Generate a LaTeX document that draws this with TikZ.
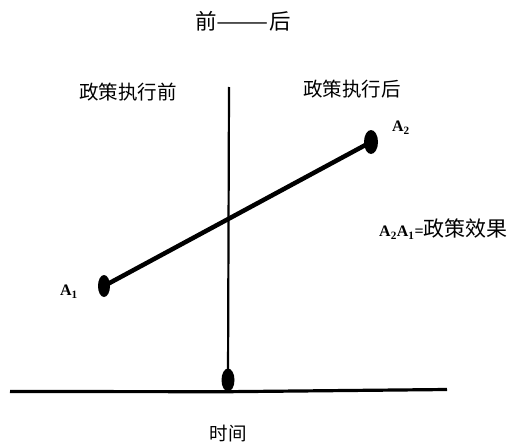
\documentclass[tikz,border=0pt]{standalone}
\usepackage{fontspec}
\setmainfont{Liberation Serif}
\newfontfamily\cjk{Noto Sans CJK SC}
\tikzset{
  dotmark/.style={ellipse, fill=black, inner sep=0pt, minimum width=13pt, minimum height=23pt},
  cjklabel/.style={font=\cjk\fontsize{19.5}{22}\selectfont, inner sep=0pt},
  alabel/.style={font=\bfseries\fontsize{16}{18}\selectfont, inner sep=0pt},
  axis/.style={line width=3.2pt},
}
\usetikzlibrary{shapes.geometric}
\begin{document}
\begin{tikzpicture}[x=1pt,y=-1pt]
\useasboundingbox (0,0) rectangle (527,444);
% title
\node[cjklabel, font=\cjk\fontsize{21.5}{24}\selectfont] (title) at (243,21) {前\scalebox{1.45}[1]{——}后};
% labels
\node[cjklabel] (before) at (128,92) {政策执行前};
\node[cjklabel] (after) at (352,89) {政策执行后};
\node[cjklabel, font=\cjk\fontsize{18.5}{21}\selectfont] (time) at (228,434) {时间};
% axes
\coordinate (vtop) at (229,87);
\coordinate (hl) at (10,391.5);
\coordinate (hr) at (447,389.5);
\node[dotmark] (O) at (228,380) {};
\draw[line width=2.2pt] (vtop) -- (O.center);
\draw[axis] (hl) -- (O.south) -- (hr);
% points
\node[dotmark, minimum width=12pt, minimum height=22pt] (A1) at (104,286) {};
\node[dotmark, minimum width=14pt, minimum height=24pt] (A2) at (371,142) {};
\draw[line width=4.5pt] (A1.center) -- (A2.center);
\node[alabel] (a1lab) at (69,292) {A\textsubscript{1}};
\node[alabel] (a2lab) at (401,128) {A\textsubscript{2}};
\node[anchor=west, inner sep=0pt] (eff) at (379,229) {{\bfseries\fontsize{16}{18}\selectfont A\textsubscript{2}A\textsubscript{1}=}{\cjk\fontsize{21}{24}\selectfont 政策效果}};
\end{tikzpicture}
\end{document}
